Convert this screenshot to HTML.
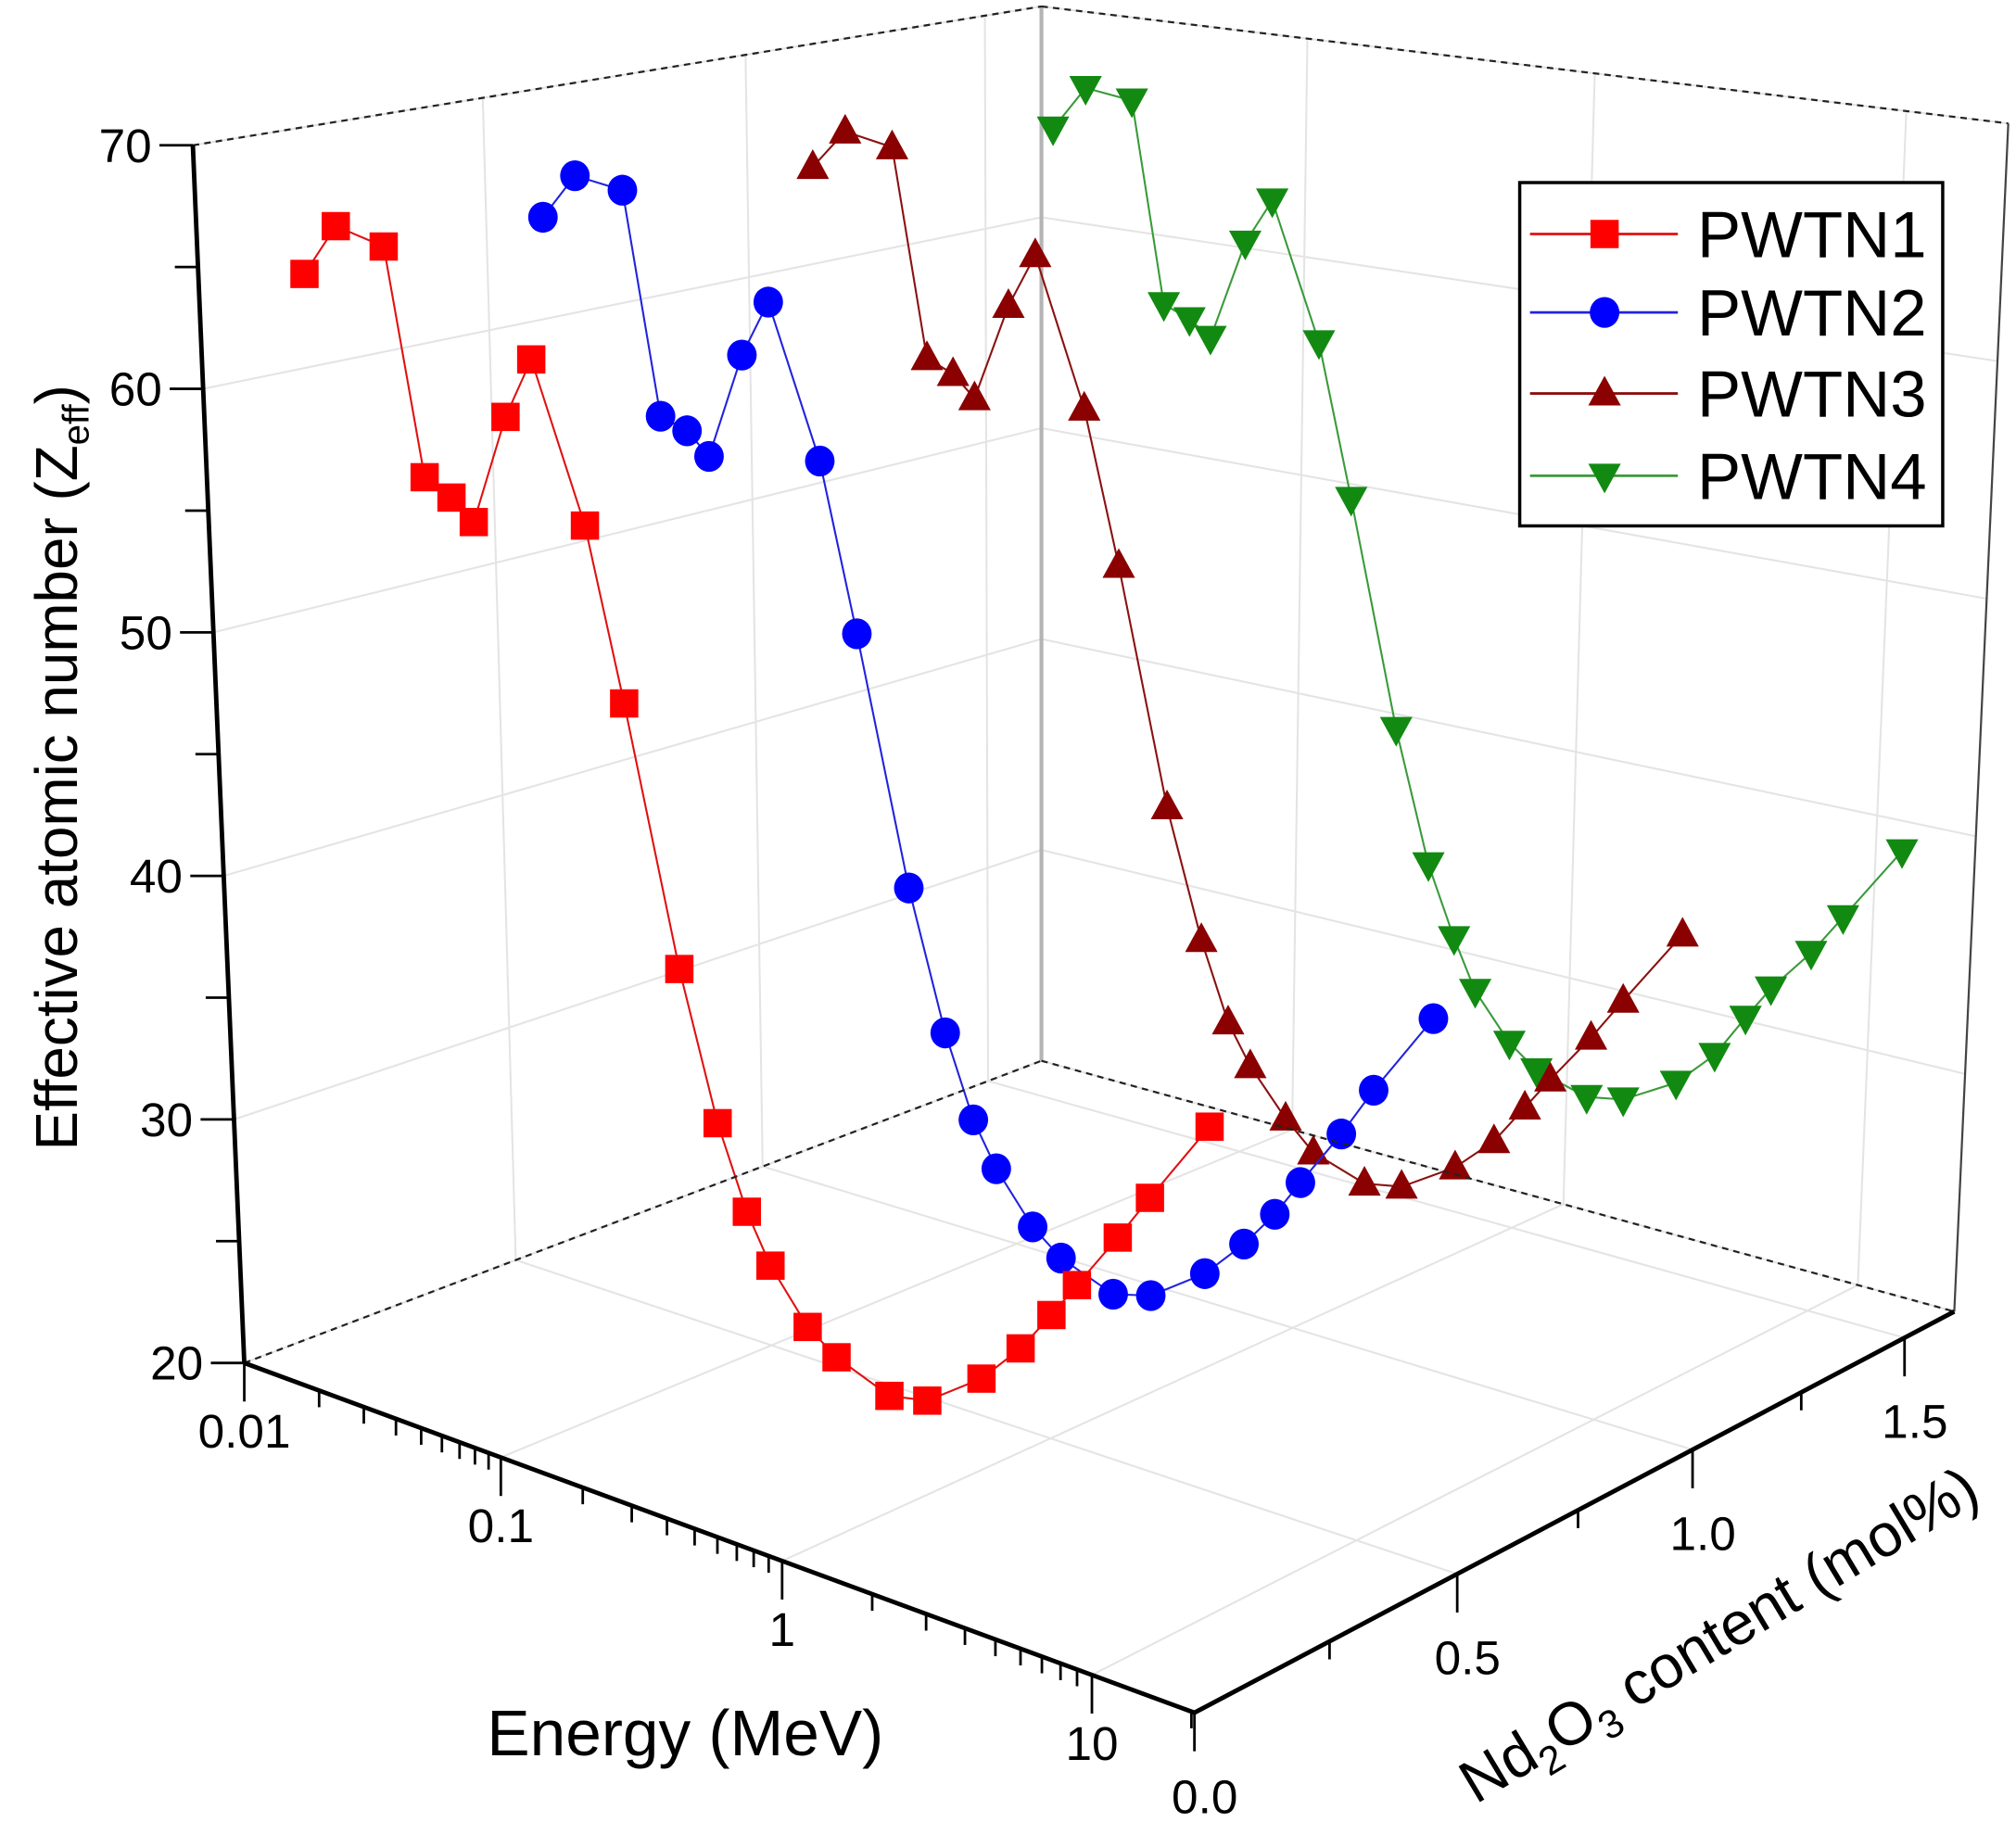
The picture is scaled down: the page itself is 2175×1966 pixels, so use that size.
<!DOCTYPE html>
<html><head><meta charset="utf-8">
<style>
html,body{margin:0;padding:0;background:#fff;}
svg{display:block;font-family:"Liberation Sans",Arial,sans-serif;}
</style></head>
<body>
<svg id="chart" width="2175" height="1966" viewBox="0 0 1568 1417" preserveAspectRatio="none" xmlns="http://www.w3.org/2000/svg">
<g id="grid"></g>
<g id="frame"></g>
<g id="series"></g>
<g id="axes"></g>
<text transform="translate(60,597) rotate(-90)" text-anchor="middle" font-size="46">Effective atomic number (Z<tspan font-size="29" dy="9">eff</tspan><tspan dy="-9">)</tspan></text>
<text x="533" y="1365" text-anchor="middle" font-size="50">Energy (MeV)</text>
<text transform="translate(1345,1285) rotate(-31)" text-anchor="middle" font-size="47">Nd<tspan font-size="31" dy="11">2</tspan><tspan dy="-11">O</tspan><tspan font-size="31" dy="11">3</tspan><tspan dy="-11"> content (mol%)</tspan></text>
<g id="legend">
<rect x="1182" y="142" width="329" height="267" fill="#fff" stroke="#000" stroke-width="2.5"/>
</g>
</svg>
<script>
// ---- data ----
const energies = [0.015,0.02,0.03,0.04,0.05,0.06,0.08,0.1,0.15,0.2,0.3,0.4,0.5,0.6,0.8,1,1.5,2,3,4,5,6,8,10,15];
const seriesNames = ["PWTN1","PWTN2","PWTN3","PWTN4"];
const contents = [0.1,0.52,1.04,1.55];
const zeffPWTN1 = [64.6,66.8,66.3,57.2,56.6,55.8,60.3,62.8,56.6,49.9,40.0,34.4,31.3,29.5,27.6,26.8,26.0,26.3,27.8,29.4,31.0,32.4,34.6,36.4,39.6];
const zeffPWTN2 = [65.1,67.1,66.8,57.5,57.1,56.2,60.7,63.1,56.9,50.1,40.2,34.7,31.5,29.8,27.9,27.0,26.2,26.6,28.1,29.7,31.2,32.7,35.0,37.0,40.3];
const zeffPWTN3 = [65.1,66.9,66.5,57.4,56.9,56.0,60.3,62.7,56.4,49.9,40.0,34.7,31.5,29.9,28.1,27.0,26.3,26.6,28.0,29.5,31.2,32.6,34.7,36.5,39.7];
const zeffPWTN4 = [64.8,66.9,66.6,57.4,56.9,56.2,60.8,62.9,56.8,50.0,40.1,34.4,31.4,29.3,27.4,26.5,25.9,26.2,27.5,29.1,31.0,32.5,34.4,36.2,39.5];
const zTicks = [20,30,40,50,60,70];
const zTickLabels = ["20","30","40","50","60","70"];
const eTicks = [0.01,0.1,1,10];
const eTickLabels = ["0.01","0.1","1","10"];
const cTicks = [0,0.5,1.0,1.5];
const cTickLabels = ["0.0","0.5","1.0","1.5"];

// ---- projection ----
const LOGMIN=-2, LOGMAX=1.31, CMAX=1.625, ZMIN=20, ZMAX=70;
function homog(q){
  const [x0,y0]=q[0],[x1,y1]=q[1],[x2,y2]=q[2],[x3,y3]=q[3];
  const dx1=x1-x2,dx2=x3-x2,dx3=x0-x1+x2-x3,dy1=y1-y2,dy2=y3-y2,dy3=y0-y1+y2-y3;
  const den=dx1*dy2-dx2*dy1;
  const g=(dx3*dy2-dx2*dy3)/den, h=(dx1*dy3-dx3*dy1)/den;
  const a=x1-x0+g*x1,b=x3-x0+h*x3,c=x0,d=y1-y0+g*y1,e=y3-y0+h*y3,f=y0;
  return (u,v)=>{const w=g*u+h*v+1;return [(a*u+b*v+c)/w,(d*u+e*v+f)/w];};
}
const Hf=homog([[190,1060],[929,1332],[1520,1020],[810,825]]);
const Ht=homog([[150,113],[938,240],[1562,96],[810,5]]);
function xs(E){return (Math.log10(E)-LOGMIN)/(LOGMAX-LOGMIN);}
function cs(c){return c/CMAX;}
function zs(z){return (z-ZMIN)/(ZMAX-ZMIN);}
function P(u,v,w){const a=Hf(u,v),b=Ht(u,v);return [a[0]+(b[0]-a[0])*w,a[1]+(b[1]-a[1])*w];}
function proj(E,c,z){return P(xs(E),cs(c),zs(z));}

const NS="http://www.w3.org/2000/svg";
function mk(tag,parent,attrs){const el=document.createElementNS(NS,tag);for(const k in attrs)el.setAttribute(k,attrs[k]);parent.appendChild(el);return el;}
const grid=document.getElementById('grid'),frame=document.getElementById('frame'),axes=document.getElementById('axes'),series=document.getElementById('series'),legend=document.getElementById('legend');
function line(parent,a,b,st,w,dash){const l=mk('line',parent,{x1:a[0],y1:a[1],x2:b[0],y2:b[1],stroke:st,'stroke-width':w});if(dash)l.setAttribute('stroke-dasharray',dash);return l;}

// ---- gridlines ----
const GC="#e4e4e4";
zTicks.forEach(z=>{const w=zs(z);
  let l=line(grid,P(0,0,w),P(0,1,w),GC,1.5);
  
  
  l=line(grid,P(0,1,w),P(1,1,w),GC,1.5);
  
  
});
eTicks.forEach(E=>{const u=xs(E);
  let l=line(grid,P(u,0,0),P(u,1,0),GC,1.5);
  
  
  l=line(grid,P(u,1,0),P(u,1,1),GC,1.5);
  
  
});
cTicks.forEach(c=>{const v=cs(c);
  let l=line(grid,P(0,v,0),P(1,v,0),GC,1.5);
  
  
  l=line(grid,P(0,v,0),P(0,v,1),GC,1.5);
  
  
});

// ---- frame ----
let fl=line(frame,P(0,1,0),P(0,1,1),"#b4b4b4",3);


fl=line(frame,P(0,0,1),P(0,1,1),"#222",1.6,"5,4");


fl=line(frame,P(0,1,1),P(1,1,1),"#222",1.6,"5,4");


fl=line(frame,P(1,1,0),P(1,1,1),"#444",1.6);



// ---- series ----
const colors=["#ff0000","#0000ff","#8b0000","#128a12"];
const lineColors=["#e01010","#2222dd","#8b1010","#3a9a3a"];
const allZ=[zeffPWTN1,zeffPWTN2,zeffPWTN3,zeffPWTN4];
function marker(parent,k,x,y,s){
  let m;
  if(k===0)m=mk('rect',parent,{x:x-s,y:y-s,width:2*s,height:2*s,fill:colors[0]});
  else if(k===1)m=mk('ellipse',parent,{cx:x,cy:y,rx:s+0.5,ry:s+1,fill:colors[1]});
  else if(k===2)m=mk('polygon',parent,{points:`${x},${y-s*1.25} ${x-s*1.15},${y+s*0.85} ${x+s*1.15},${y+s*0.85}`,fill:colors[2]});
  else m=mk('polygon',parent,{points:`${x},${y+s*1.25} ${x-s*1.15},${y-s*0.85} ${x+s*1.15},${y-s*0.85}`,fill:colors[3]});
  return m;
}
for(let k=3;k>=0;k--){
  const g=mk('g',series,{});
  
  
  const pts=energies.map((E,i)=>proj(E,contents[k],allZ[k][i]));
  const pl=mk('polyline',g,{points:pts.map(p=>p.join(',')).join(' '),fill:'none',stroke:lineColors[k],'stroke-width':1.5});
  
  
  pts.forEach((p,i)=>{const m=marker(g,k,p[0],p[1],11);
    
    
  });
}

fl=line(axes,P(0,0,0),P(0,1,0),"#222",1.6,"5,4");


fl=line(axes,P(0,1,0),P(1,1,0),"#222",1.6,"5,4");



// ---- axes ----
let ax=line(axes,P(0,0,0),P(0,0,1),"#000",3.5);


for(let z=20;z<=70;z+=5){const p=P(0,0,zs(z));const major=z%10===0;
  const t=line(axes,[p[0]-(major?26:18),p[1]],p,"#000",2);
  
  
}
zTicks.forEach((z,i)=>{const p=P(0,0,zs(z));
  const t=mk('text',axes,{x:p[0]-32,y:p[1]+13,'text-anchor':'end','font-size':37});
  t.textContent=zTickLabels[i];
  
  
});
ax=line(axes,P(0,0,0),P(1,0,0),"#000",3.5);


for(let d=-2;d<=1;d++){for(let m=1;m<=9;m++){const E=m*Math.pow(10,d);if(Math.log10(E)>LOGMAX)continue;
  const p=P(xs(E),0,0);const major=m===1;
  const t=line(axes,p,[p[0],p[1]+(major?30:13)],"#000",2);
  
  
}}
eTicks.forEach((E,i)=>{const p=P(xs(E),0,0);
  const t=mk('text',axes,{x:p[0],y:p[1]+66,'text-anchor':'middle','font-size':37});
  t.textContent=eTickLabels[i];
  
  
});
ax=line(axes,P(1,0,0),P(1,1,0),"#000",3.5);


for(let c=0;c<=1.5001;c+=0.25){const p=P(1,cs(c),0);const major=Math.abs(c*2-Math.round(c*2))<1e-6;
  const t=line(axes,p,[p[0],p[1]+(major?30:14)],"#000",2);
  
  
}
cTicks.forEach((c,i)=>{const p=P(1,cs(c),0);
  const t=mk('text',axes,{x:p[0]+8,y:p[1]+78,'text-anchor':'middle','font-size':37});
  t.textContent=cTickLabels[i];
  
  
});

// ---- legend ----
const ly=[182,243,306,370];
seriesNames.forEach((n,k)=>{
  const g=mk('g',legend,{});
  
  
  line(g,[1190,ly[k]],[1305,ly[k]],lineColors[k],2);
  marker(g,k,1248,ly[k],11);
  const t=mk('text',g,{x:1320,y:ly[k]+18,'font-size':51});
  t.textContent=n;
});
</script>
</body></html>
